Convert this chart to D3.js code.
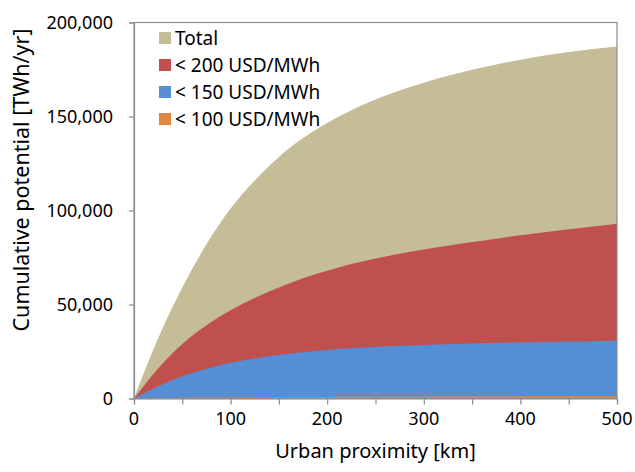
<!DOCTYPE html>
<html>
<head>
<meta charset="utf-8">
<script src="https://cdn.jsdelivr.net/npm/d3@7/dist/d3.min.js"></script>
<style>
  body { margin: 0; background: #fff; }
  text { font-family: "Noto Sans", sans-serif; fill: #000; }
</style>
</head>
<body>
<div id="chart"></div>
<script>
// distance from urban centre [km]
const km = [0, 25, 50, 75, 100, 125, 150, 175, 200, 225, 250, 275, 300, 325, 350, 375, 400, 425, 450, 475, 500];

// cumulative potential [TWh/yr]
const total = [0, 32000, 59000, 82000, 101000, 116000, 128500, 138500, 146500, 153300, 159000,
               163800, 168000, 171700, 174900, 177700, 180200, 182400, 184300, 185900, 187300];
const lt200 = [0, 16000, 29000, 39000, 47000, 53500, 59000, 64000, 68000, 71500, 74500,
               77000, 79300, 81300, 83200, 85000, 86800, 88400, 90000, 91500, 93000];
const lt150 = [0, 6500, 11800, 15800, 19000, 21300, 23100, 24600, 25800, 26700, 27400,
               28000, 28500, 28900, 29300, 29600, 29900, 30100, 30300, 30500, 30700];
const lt100 = [0, 200, 350, 480, 580, 660, 730, 790, 840, 880, 920,
               960, 990, 1020, 1050, 1080, 1110, 1140, 1170, 1200, 1230];

const seriesNames = ["Total", "< 200 USD/MWh", "< 150 USD/MWh", "< 100 USD/MWh"];
const seriesValues = [total, lt200, lt150, lt100];
const colors = ["#c4bd97", "#c0504d", "#558ed5", "#e0863f"];

const yTicks = [0, 50000, 100000, 150000, 200000];
const xTicks = [0, 100, 200, 300, 400, 500];
const xMinorTicks = d3.range(0, 501, 50);

const width = 635, height = 472;
const margin = { top: 22.5, right: 18, bottom: 73.5, left: 134 };

const svg = d3.select("#chart").append("svg")
    .attr("width", width)
    .attr("height", height);

const x = d3.scaleLinear()
    .domain([0, 500])
    .range([margin.left, width - margin.right]);

const y = d3.scaleLinear()
    .domain([0, 200000])
    .range([height - margin.bottom, margin.top]);

// areas, drawn on top of each other (not stacked)
const area = d3.area()
    .x((d, i) => x(km[i]))
    .y0(y(0))
    .y1(d => y(d))
    .curve(d3.curveMonotoneX);

svg.append("g")
    .selectAll("path")
    .data(seriesValues)
    .enter()
    .append("path")
    .attr("d", area)
    .attr("fill", (d, i) => colors[i]);

// plot frame
svg.append("rect")
    .attr("x", x(0))
    .attr("y", y(200000))
    .attr("width", x(500) - x(0))
    .attr("height", y(0) - y(200000))
    .attr("fill", "none")
    .attr("stroke", "#8c8c8c")
    .attr("stroke-width", 1.2);

// y axis
const yAxis = svg.append("g")
    .attr("transform", `translate(${x(0)},0)`)
    .call(d3.axisLeft(y).tickValues(yTicks).tickSize(5).tickPadding(16)
        .tickFormat(d3.format(",")));
yAxis.select(".domain").attr("stroke", "#8c8c8c").attr("stroke-width", 1.2);
yAxis.selectAll(".tick line").attr("stroke", "#8c8c8c").attr("stroke-width", 1.2);
yAxis.selectAll("text").style("font-size", "18px").attr("dy", "0.35em");

// x axis
const xAxis = svg.append("g")
    .attr("transform", `translate(0,${y(0)})`)
    .call(d3.axisBottom(x).tickValues(xMinorTicks).tickSize(6).tickFormat(""));
xAxis.select(".domain").attr("stroke", "#8c8c8c").attr("stroke-width", 1.2);
xAxis.selectAll(".tick line").attr("stroke", "#8c8c8c").attr("stroke-width", 1.2);

svg.append("g")
    .selectAll("text")
    .data(xTicks)
    .enter()
    .append("text")
    .attr("x", d => x(d))
    .attr("y", 425)
    .attr("text-anchor", "middle")
    .style("font-size", "18px")
    .text(d => d);

// axis titles
svg.append("text")
    .attr("x", (x(0) + x(500)) / 2)
    .attr("y", 458)
    .attr("text-anchor", "middle")
    .style("font-size", "20px")
    .text("Urban proximity [km]");

svg.append("text")
    .attr("transform", `translate(29,180) rotate(-90)`)
    .attr("text-anchor", "middle")
    .style("font-size", "21.5px")
    .text("Cumulative potential [TWh/yr]");

// legend
const legend = svg.append("g")
    .attr("transform", "translate(159,38)");

const rows = legend.selectAll("g")
    .data(seriesNames)
    .enter()
    .append("g")
    .attr("transform", (d, i) => `translate(0,${i * 27})`);

rows.append("rect")
    .attr("x", 0)
    .attr("y", -6)
    .attr("width", 12)
    .attr("height", 12)
    .attr("fill", (d, i) => colors[i]);

rows.append("text")
    .attr("x", 16)
    .attr("y", 0)
    .attr("dy", "0.35em")
    .style("font-size", "19px")
    .text(d => d);
</script>
</body>
</html>
